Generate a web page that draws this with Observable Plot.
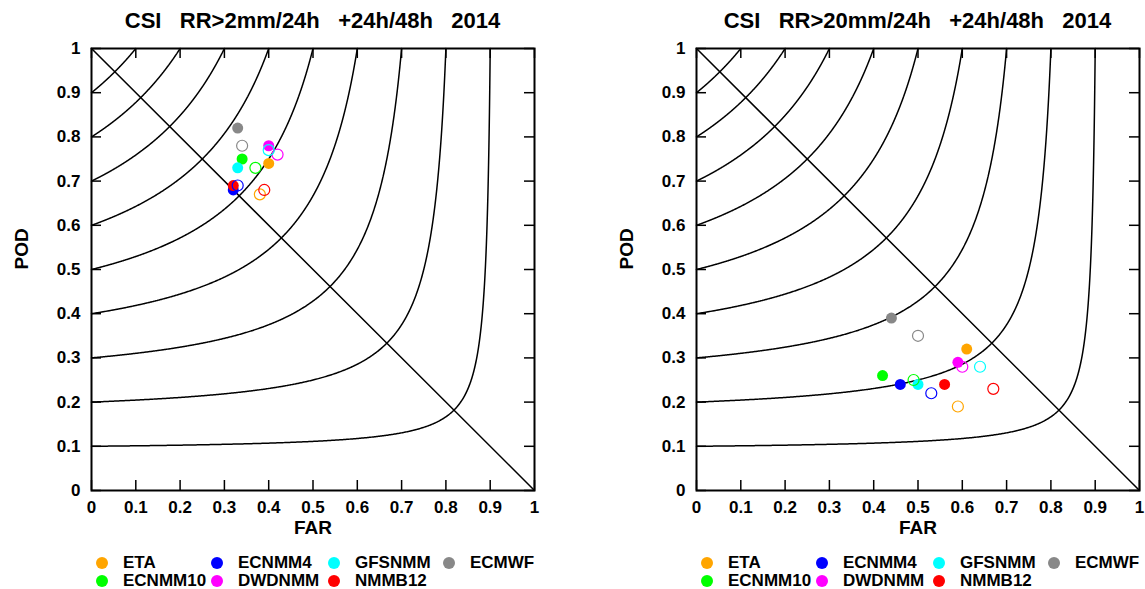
<!DOCTYPE html>
<html><head><meta charset="utf-8">
<script src="https://cdn.jsdelivr.net/npm/d3@7"></script>
<script src="https://cdn.jsdelivr.net/npm/@observablehq/plot@0.6"></script>
<style>
body{margin:0;background:#fff;width:1145px;height:589px;overflow:hidden;font-family:"Liberation Sans",Arial,sans-serif;font-weight:bold;color:#000;}
.panel{position:absolute;top:0;width:540px;height:589px;}
.title{position:absolute;top:0;left:91px;width:443px;height:40px;line-height:42px;text-align:center;font-size:22px;white-space:pre;}
.plot{position:absolute;top:40px;left:0;}
.leg{position:absolute;font-size:17px;line-height:18px;white-space:nowrap;}
.dot{position:absolute;width:12px;height:12px;border-radius:50%;}
</style></head><body>
<div id="root"></div>
<script>
// Models (legend order is column-major: col = floor(i/2), row = i%2)
const models = ["ETA","ECNMM10","ECNMM4","DWDNMM","GFSNMM","NMMB12","ECMWF"];
const colors = ["#FFA500","#00FF00","#0000FF","#FF00FF","#00FFFF","#FF0000","#888888"];

// Left panel: RR>2mm/24h ; filled = +24h, open = +48h
const far2_24 = [0.40,0.34,0.32,0.40,0.33,0.32,0.33];
const pod2_24 = [0.74,0.75,0.68,0.78,0.73,0.69,0.82];
const far2_48 = [0.38,0.37,0.33,0.42,0.40,0.39,0.34];
const pod2_48 = [0.67,0.73,0.69,0.76,0.77,0.68,0.78];

// Right panel: RR>20mm/24h
const far20_24 = [0.61,0.42,0.46,0.59,0.50,0.56,0.44];
const pod20_24 = [0.32,0.26,0.24,0.29,0.24,0.24,0.39];
const far20_48 = [0.59,0.49,0.53,0.60,0.64,0.67,0.50];
const pod20_48 = [0.19,0.25,0.22,0.28,0.28,0.23,0.35];

const csiLevels = [0.1,0.2,0.3,0.4,0.5,0.6,0.7,0.8,0.9];
const tickValues = [0,0.1,0.2,0.3,0.4,0.5,0.6,0.7,0.8,0.9,1];
const tickLabels = ["0","0.1","0.2","0.3","0.4","0.5","0.6","0.7","0.8","0.9","1"];
const titles = ["CSI   RR>2mm/24h   +24h/48h   2014", "CSI   RR>20mm/24h   +24h/48h   2014"];
const xLabel = "FAR", yLabel = "POD";
const biasLine = [{far:0,pod:1},{far:1,pod:0}];

// CSI isolines: CSI = 1/(1/POD + 1/(1-FAR) - 1)
const curvePts = csiLevels.flatMap(c => {
  const n = 400, pts = [];
  for (let i = 0; i <= n; i++) {
    const far = (1 - c) * i / n;
    const pod = 1 / (1 / c + 1 - 1 / (1 - far));
    pts.push({csi:c, far, pod});
    const p = c + (1 - c) * i / n;
    const sr = 1 / (1 / c + 1 - 1 / p);
    pts.push({csi:c, far: 1 - sr, pod: p});
  }
  pts.sort((a, b) => a.far - b.far || a.pod - b.pod);
  return pts.filter(d => d.pod <= 1.0001 && d.far >= -1e-9);
});

function makePlot(far24, pod24, far48, pod48) {
  const W = 540, H = 510, mL = 91, mR = 6, mT = 8, mB = 60;
  const pw = W - mL - mR, ph = H - mT - mB;
  const d24 = models.map((m, i) => ({model:m, far:far24[i], pod:pod24[i]}));
  const d48 = models.map((m, i) => ({model:m, far:far48[i], pod:pod48[i]}));
  return Plot.plot({
    width: W, height: H, marginLeft: mL, marginRight: mR, marginTop: mT, marginBottom: mB,
    x: {domain:[0,1]}, y: {domain:[0,1]},
    color: {domain: models, range: colors},
    style: {fontFamily:"'Liberation Sans', Arial, sans-serif", fontWeight:"bold", fontSize:"17px", color:"#000", background:"transparent", overflow:"visible"},
    marks: [
      Plot.line(curvePts, {x:"far", y:"pod", z:"csi", stroke:"#000", strokeWidth:1.5}),
      Plot.line(biasLine, {x:"far", y:"pod", stroke:"#000", strokeWidth:1.5}),
      Plot.tickX(tickValues, {x: d => d, insetTop: ph - 10, stroke:"#000", strokeWidth:1.5}),
      Plot.tickX(tickValues, {x: d => d, insetBottom: ph - 10, stroke:"#000", strokeWidth:1.5}),
      Plot.tickY(tickValues, {y: d => d, insetRight: pw - 10, stroke:"#000", strokeWidth:1.5}),
      Plot.tickY(tickValues, {y: d => d, insetLeft: pw - 10, stroke:"#000", strokeWidth:1.5}),
      Plot.axisX({ticks: tickValues, tickSize: 0, tickPadding: 10, tickFormat: (d, i) => tickLabels[i], label: null}),
      Plot.axisY({ticks: tickValues, tickSize: 0, tickPadding: 11, tickFormat: (d, i) => tickLabels[i], label: null}),
      Plot.text([xLabel], {text: d => d, frameAnchor:"bottom", dy: 43, fontSize: 19, fontWeight:"bold"}),
      Plot.text([yLabel], {text: d => d, frameAnchor:"left", dx: -70, rotate: -90, fontSize: 19, fontWeight:"bold"}),
      Plot.dot(d24, {x:"far", y:"pod", r:5.5, fill:"model", stroke:null}),
      Plot.dot(d48, {x:"far", y:"pod", r:5.5, stroke:"model", fill:"none", strokeWidth:1.2}),
      Plot.frame({stroke:"#000", strokeWidth:2})
    ]
  });
}

function makePanel(left, title, plot) {
  const p = document.createElement("div");
  p.className = "panel"; p.style.left = left + "px";
  const t = document.createElement("div");
  t.className = "title"; t.textContent = title;
  p.appendChild(t);
  const pd = document.createElement("div");
  pd.className = "plot"; pd.appendChild(plot);
  p.appendChild(pd);
  const colX = [102, 217, 334, 449], rowY = [563, 581];
  models.forEach((m, i) => {
    const cx = colX[Math.floor(i / 2)], cy = rowY[i % 2];
    const dot = document.createElement("div");
    dot.className = "dot"; dot.style.background = colors[i];
    dot.style.left = (cx - 6) + "px"; dot.style.top = (cy - 6) + "px";
    p.appendChild(dot);
    const lab = document.createElement("div");
    lab.className = "leg"; lab.textContent = m;
    lab.style.left = (cx + 21) + "px"; lab.style.top = (cy - 9) + "px";
    p.appendChild(lab);
  });
  document.getElementById("root").appendChild(p);
}

makePanel(0, titles[0], makePlot(far2_24, pod2_24, far2_48, pod2_48));
makePanel(605, titles[1], makePlot(far20_24, pod20_24, far20_48, pod20_48));
</script>
</body></html>
